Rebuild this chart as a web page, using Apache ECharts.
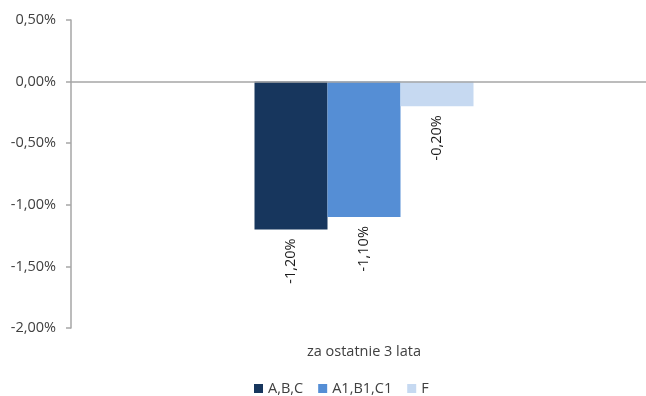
<!DOCTYPE html>
<html>
<head>
<meta charset="utf-8">
<script src="https://cdn.jsdelivr.net/npm/echarts@6/dist/echarts.min.js"></script>
<style>
  html, body { margin: 0; padding: 0; background: #ffffff; }
  #chart { width: 646px; height: 396px; }
</style>
</head>
<body>
<div id="chart"></div>
<script>
// Categories and series values (percent)
const categories = ['za ostatnie 3 lata'];
const seriesNames = ['A,B,C', 'A1,B1,C1', 'F'];
const valuesABC = [-1.20];
const valuesA1B1C1 = [-1.10];
const valuesF = [-0.20];
const seriesColors = ['#17365D', '#558ED5', '#C6D9F1'];
const yMin = -2, yMax = 0.5, yStep = 0.5;

const FONT = 'Open Sans';
const FS = 14.5;
const AXIS_GREY = '#A6A6A6';
const fmt = v => v.toFixed(2).replace('.', ',') + '%';

function makeSeries(name, data, color) {
  return {
    name: name,
    type: 'bar',
    xAxisIndex: 0,
    yAxisIndex: 0,
    data: data,
    barWidth: 73,
    barGap: '0%',
    itemStyle: { color: color },
    label: {
      show: true,
      position: 'outside',
      rotate: 90,
      align: 'right',
      verticalAlign: 'middle',
      distance: 9,
      fontFamily: FONT,
      fontSize: FS,
      color: '#1a1a1a',
      formatter: p => fmt(p.value)
    }
  };
}

const chart = echarts.init(document.getElementById('chart'), null, { renderer: 'canvas' });
chart.setOption({
  animation: false,
  backgroundColor: '#ffffff',
  grid: [
    // plot area for the bars (category centred to the right of the value axis)
    { left: 82, right: 0, top: 20, bottom: 68, containLabel: false },
    // frame grid: value axis on the left and the zero line across
    { left: 71, right: 0, top: 20, bottom: 68, containLabel: false }
  ],
  legend: {
    left: 254,
    top: 381,
    padding: 0,
    icon: 'rect',
    itemWidth: 9,
    itemHeight: 9,
    itemGap: 15,
    textStyle: { fontFamily: FONT, fontSize: FS, color: '#404040' },
    data: seriesNames
  },
  xAxis: [
    {
      gridIndex: 0,
      type: 'category',
      data: categories,
      axisLine: { show: false, onZero: false },
      axisTick: { show: false },
      axisLabel: { margin: 16, fontFamily: FONT, fontSize: FS, color: '#404040' }
    },
    {
      gridIndex: 1,
      type: 'category',
      data: categories,
      z: 3,
      axisLine: { show: true, onZero: true, lineStyle: { color: AXIS_GREY, width: 1.5 } },
      axisTick: { show: false },
      axisLabel: { show: false }
    }
  ],
  yAxis: [
    {
      gridIndex: 0,
      type: 'value',
      min: yMin, max: yMax, interval: yStep,
      show: false
    },
    {
      gridIndex: 1,
      type: 'value',
      min: yMin, max: yMax, interval: yStep,
      axisLine: { show: true, lineStyle: { color: AXIS_GREY, width: 1.5 } },
      axisTick: { show: true, length: 5, lineStyle: { color: AXIS_GREY, width: 1.5 } },
      splitLine: { show: false },
      axisLabel: { margin: 15, fontFamily: FONT, fontSize: FS, color: '#404040', formatter: v => fmt(v) }
    }
  ],
  series: [
    makeSeries(seriesNames[0], valuesABC, seriesColors[0]),
    makeSeries(seriesNames[1], valuesA1B1C1, seriesColors[1]),
    makeSeries(seriesNames[2], valuesF, seriesColors[2])
  ]
});
</script>
</body>
</html>
